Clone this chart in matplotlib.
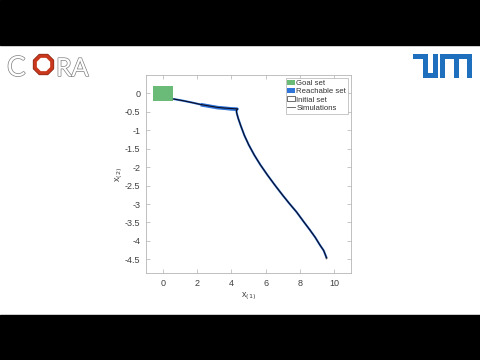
import matplotlib
matplotlib.use("Agg")
import matplotlib.pyplot as plt
import matplotlib.patheffects as pe
from matplotlib.patches import Rectangle, RegularPolygon, Patch
from matplotlib.lines import Line2D
import numpy as np

plt.rcParams["axes.unicode_minus"] = False
plt.rcParams["font.family"] = ["Liberation Sans", "DejaVu Sans"]

# goal set box: x range, y range
goal_x = [-0.6, 0.6]
goal_y = [-0.2, 0.2]

# simulated trajectory, from the initial set to the goal
sim_x = [9.57, 9.40, 9.18, 8.90, 8.59, 8.20, 7.82, 7.40, 7.00, 6.55, 6.12,
         5.70, 5.35, 5.02, 4.76, 4.55, 4.40, 4.31, 4.29, 4.37,
         4.00, 3.69, 3.20, 2.70, 2.20, 1.72, 1.20, 0.60]
sim_y = [-4.46, -4.26, -4.11, -3.90, -3.70, -3.46, -3.22, -2.99, -2.76, -2.49, -2.22,
         -1.94, -1.68, -1.40, -1.14, -0.88, -0.68, -0.53, -0.46, -0.42,
         -0.41, -0.40, -0.38, -0.34, -0.30, -0.25, -0.20, -0.15]

# part of the trajectory where the reachable set is visibly wider
reach_x = [4.37, 4.00, 3.69, 3.20, 2.70, 2.20]
reach_y = [-0.43, -0.42, -0.405, -0.385, -0.345, -0.305]

init_x = [9.54, 9.60]
init_y = [-4.48, -4.44]

xticks = [0, 2, 4, 6, 8, 10]
yticks = [0, -0.5, -1, -1.5, -2, -2.5, -3, -3.5, -4, -4.5]

green = "#6abb78"
blue = "#2f74d8"

fig = plt.figure(figsize=(4.8, 3.6), dpi=100)
fig.patch.set_facecolor("white")

# background canvas in pixel coordinates for letterbox bars and logos
bg = fig.add_axes([0, 0, 1, 1], zorder=0)
bg.set_xlim(0, 480)
bg.set_ylim(360, 0)
bg.axis("off")
bg.add_patch(Rectangle((0, 0), 480, 45, color="black"))
bg.add_patch(Rectangle((0, 315), 480, 45, color="black"))

# CORA logo
stroke = [pe.Stroke(linewidth=1.0, foreground="#808080"), pe.Normal()]
bg.text(7, 76, "C", fontsize=20, family="Lato", color="white",
        path_effects=stroke, va="baseline")
bg.add_patch(RegularPolygon((43.5, 64.5), 8, radius=9.3, orientation=np.pi / 8,
                            fill=False, edgecolor="#c9381c", lw=2.8))
bg.add_patch(RegularPolygon((43.5, 64.5), 8, radius=11.2, orientation=np.pi / 8,
                            fill=False, edgecolor="#7a2a1a", lw=0.4))
bg.text(56, 76, "RA", fontsize=18, family="Lato", color="white",
        path_effects=stroke, va="baseline")

# TUM logo made of bars
tum = "#1f6fbf"
ox, oy = 413, 54
for (x0, y0, w, h) in [(0, 0, 15, 5), (10, 0, 5, 24), (10, 19, 15, 5), (20, 0, 5, 24),
                       (27, 0, 32, 5), (27, 0, 5, 24), (40.5, 0, 5, 24), (54, 0, 5, 24)]:
    bg.add_patch(Rectangle((ox + x0, oy + y0), w, h, color=tum, lw=0))

ax = fig.add_axes([146 / 480, 87 / 360, 205 / 480, 198 / 360], zorder=1)

ax.add_patch(Rectangle((goal_x[0], goal_y[0]), goal_x[1] - goal_x[0],
                       goal_y[1] - goal_y[0], facecolor=green, edgecolor="none"))

ax.plot(sim_x, sim_y, color=blue, lw=1.5, solid_capstyle="butt")
ax.plot(reach_x, reach_y, color=blue, lw=2.6, solid_capstyle="butt")
ax.plot(sim_x, sim_y, color="#0c0c22", lw=0.8)
ax.add_patch(Rectangle((init_x[0], init_y[0]), init_x[1] - init_x[0],
                       init_y[1] - init_y[0], facecolor="white", edgecolor="black", lw=0.3))

ax.set_xlim(-1, 11)
ax.set_ylim(-4.87, 0.5)
ax.set_xticks(xticks)
ax.set_yticks(yticks)
ax.set_yticklabels([f"{t:g}" for t in yticks])
ax.tick_params(direction="in", length=3, width=0.5, top=True, right=True,
               labelsize=6.5, colors="#b0b0b0", labelcolor="#404040", pad=4)
for s in ax.spines.values():
    s.set_color("#b5b5b5")
    s.set_linewidth(0.6)

ax.set_xlabel("x$_{(1)}$", fontsize=6.5, color="#404040", labelpad=2)
ax.set_ylabel("x$_{(2)}$", fontsize=6.5, color="#404040", labelpad=0)

handles = [Patch(facecolor=green, edgecolor="none"),
           Patch(facecolor=blue, edgecolor="none"),
           Patch(facecolor="white", edgecolor="#333333", lw=0.5),
           Line2D([], [], color="#555555", lw=0.6)]
labels = ["Goal set", "Reachable set", "Initial set", "Simulations"]
leg = ax.legend(handles, labels, loc="upper right", fontsize=5.6,
                handlelength=1.0, handleheight=0.6, handletextpad=0.2,
                borderpad=0.2, labelspacing=0.15, borderaxespad=0.4,
                fancybox=False, framealpha=1)
leg.get_frame().set_edgecolor("#b0b0b0")
leg.get_frame().set_linewidth(0.5)
for t in leg.get_texts():
    t.set_color("#333333")

fig.savefig("out.png", dpi=100)
